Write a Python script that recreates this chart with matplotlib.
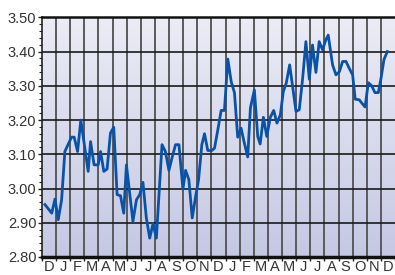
import numpy as np
import matplotlib.pyplot as plt
from matplotlib.ticker import MultipleLocator, FixedLocator

plt.rcParams['font.family'] = ['Liberation Sans', 'DejaVu Sans']

# months since start of the first December, one reading per week (approx)
months = [0.21, 0.69, 0.92, 1.15, 1.39, 1.62, 2.09, 2.28, 2.52, 2.75,
          3.27, 3.44, 3.69, 3.98, 4.15, 4.38, 4.61, 4.85, 5.08, 5.32,
          5.56, 5.79, 5.98, 6.44, 6.69, 6.92, 7.15, 7.39, 7.63, 7.86,
          8.10, 8.50, 8.74, 8.99, 9.23, 9.46, 9.70, 9.98, 10.17, 10.40,
          10.64, 10.88, 11.09, 11.32, 11.51, 11.74, 12.03, 12.22, 12.45, 12.69,
          12.92, 13.16, 13.40, 13.63, 13.86, 14.10, 14.33, 14.57, 14.76, 15.04,
          15.28, 15.45, 15.68, 15.92, 16.17, 16.41, 16.64, 16.88, 17.09, 17.30,
          17.54, 17.99, 18.22, 18.46, 18.69, 18.93, 19.16, 19.40, 19.63, 19.87,
          20.10, 20.27, 20.58, 20.82, 21.06, 21.29, 21.53, 21.76, 22.00, 22.18,
          22.47, 22.66, 22.88, 23.11, 23.35, 23.58, 23.82, 24.01, 24.22, 24.46]
rates = [2.953, 2.928, 2.969, 2.909, 2.967, 3.108, 3.150, 3.150, 3.108, 3.200,
         3.050, 3.137, 3.069, 3.069, 3.108, 3.050, 3.057, 3.162, 3.179, 2.982,
         2.979, 2.928, 3.069, 2.904, 2.967, 2.982, 3.018, 2.914, 2.855, 2.897,
         2.855, 3.128, 3.108, 3.053, 3.093, 3.128, 3.128, 2.998, 3.053, 3.026,
         2.914, 2.977, 3.026, 3.128, 3.160, 3.111, 3.111, 3.118, 3.171, 3.228,
         3.228, 3.378, 3.312, 3.280, 3.150, 3.176, 3.133, 3.092, 3.235, 3.288,
         3.152, 3.130, 3.208, 3.152, 3.208, 3.228, 3.191, 3.215, 3.283, 3.308,
         3.361, 3.225, 3.230, 3.322, 3.429, 3.319, 3.419, 3.339, 3.429, 3.405,
         3.434, 3.448, 3.361, 3.332, 3.341, 3.371, 3.371, 3.351, 3.332, 3.261,
         3.259, 3.249, 3.238, 3.309, 3.300, 3.280, 3.280, 3.322, 3.377, 3.400]
month_labels = list("DJFMAMJJASOND") + list("JFMAMJJASOND")

fig = plt.figure(figsize=(3.95, 2.75), dpi=100)
ax = fig.add_axes([0.1063, 0.0655, 0.8937, 0.8716])

n = len(month_labels)
ax.set_xlim(0, n)
ax.set_ylim(2.80, 3.50)

# vertical gradient background, light at top
grad = np.linspace(0, 1, 256).reshape(-1, 1)
top = np.array([0.925, 0.925, 0.965])
bot = np.array([0.77, 0.785, 0.895])
img = top + (bot - top) * grad[:, :, None]
ax.imshow(img, extent=[0, n, 2.80, 3.50], origin='upper', aspect='auto', zorder=0)

for m in range(1, n):
    ax.axvline(m, color='#5a5a5a', lw=1.4, zorder=1)
for v in np.arange(2.90, 3.45, 0.10):
    ax.axhline(v, color='#1a1a1a', lw=1.2, zorder=1)
ax.axhline(3.50, color='#111', lw=1.8, zorder=4, clip_on=False)

ax.plot(months, rates, color='#0a52a6', lw=2.0, zorder=3,
        solid_joinstyle='round')

ax.yaxis.set_major_locator(MultipleLocator(0.10))
ax.yaxis.set_minor_locator(MultipleLocator(0.02))
ax.yaxis.set_major_formatter(plt.FuncFormatter(lambda v, p: f"{v:.2f}"))
ax.tick_params(axis='y', which='major', length=3, width=1, color='#222',
               labelsize=10.5, labelcolor='#333', pad=1)
ax.tick_params(axis='y', which='minor', length=2, width=0.8, color='#222')

ax.xaxis.set_major_locator(FixedLocator(np.arange(n) + 0.5))
ax.xaxis.set_minor_locator(FixedLocator(np.arange(n + 1)))
ax.set_xticklabels(month_labels)
ax.tick_params(axis='x', which='major', length=0, labelsize=10.5,
               labelcolor='#333', pad=2)
ax.tick_params(axis='x', which='minor', length=3, width=1, color='#222')

for s in ['top', 'right']:
    ax.spines[s].set_visible(False)
ax.spines['left'].set_color('#222')
ax.spines['left'].set_linewidth(1.2)
ax.spines['bottom'].set_color('#111')
ax.spines['bottom'].set_linewidth(2.5)

fig.savefig('out.png', dpi=100)
